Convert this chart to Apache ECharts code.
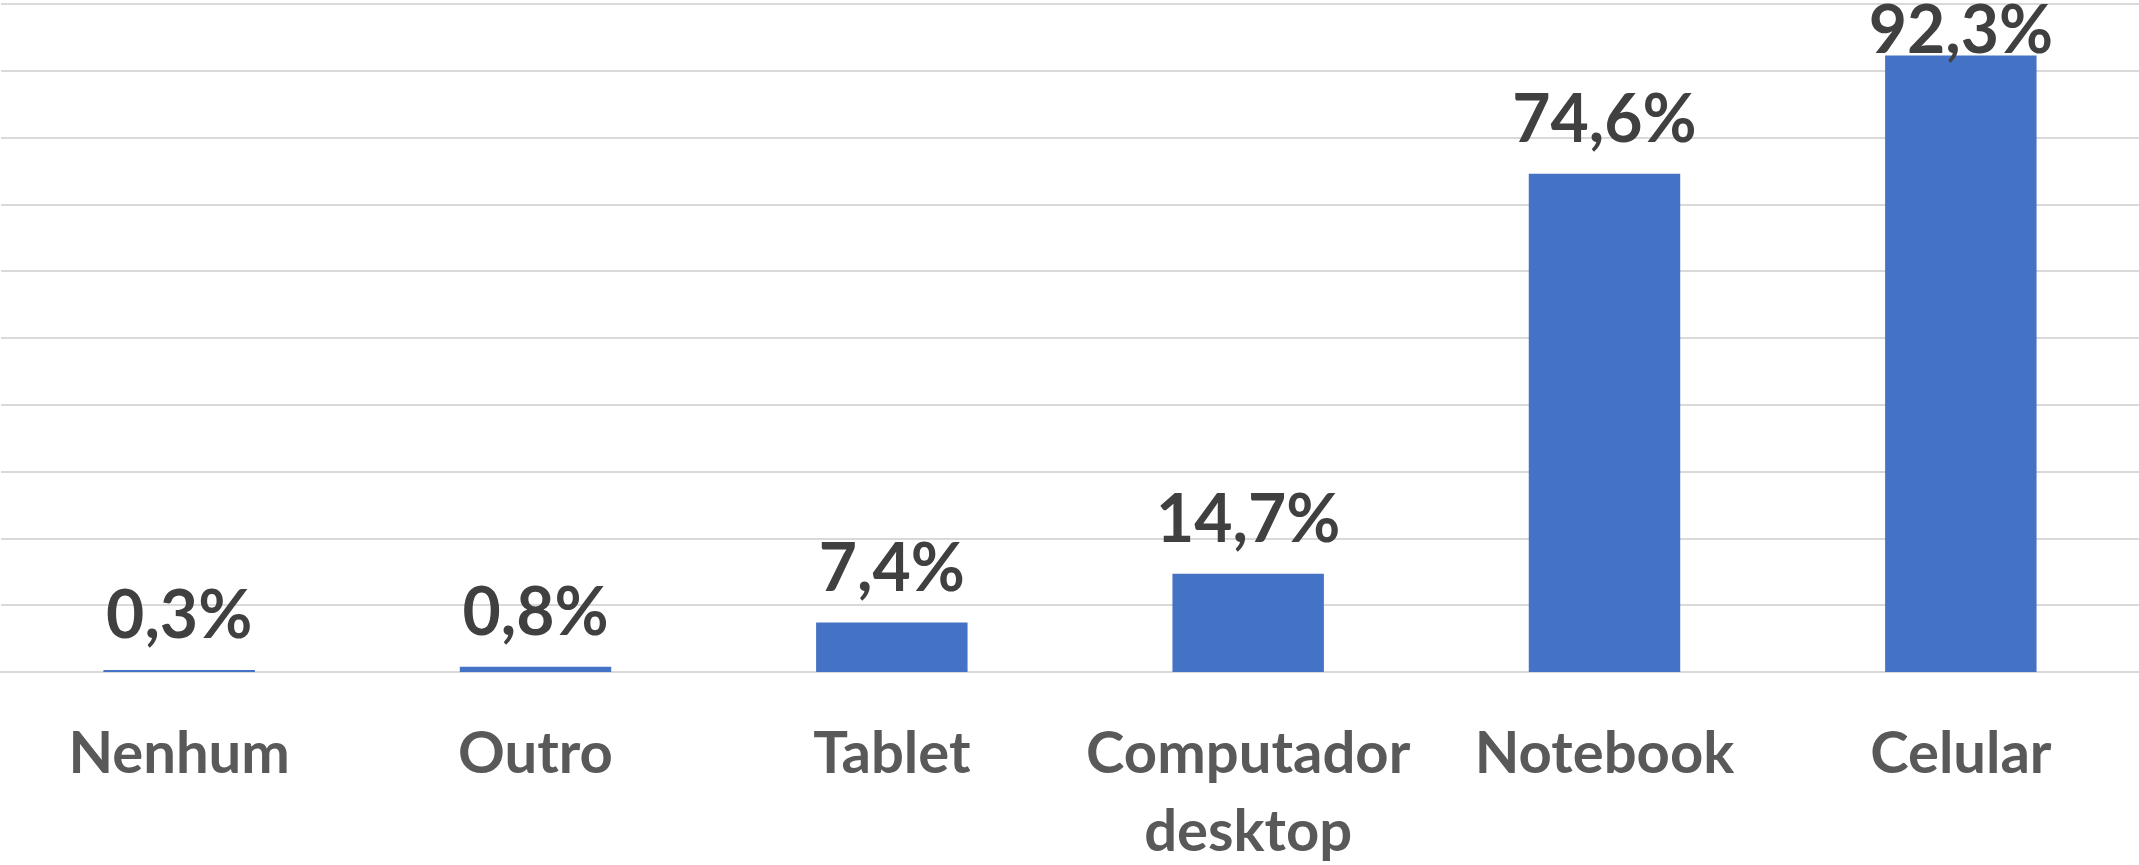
<!DOCTYPE html>
<html>
<head>
<meta charset="utf-8">
<script src="https://cdn.jsdelivr.net/npm/echarts@6/dist/echarts.min.js"></script>
<style>
  html, body { margin: 0; padding: 0; background: #fff; }
  #chart { width: 2139px; height: 865px; }
</style>
</head>
<body>
<div id="chart"></div>
<script>
// dados
const categories = ['Nenhum', 'Outro', 'Tablet', 'Computador\ndesktop', 'Notebook', 'Celular']
const values = [0.3, 0.8, 7.4, 14.7, 74.6, 92.3]

const yMin = 0
const yMax = 100
const yStep = 10

const myChart = echarts.init(document.getElementById('chart'))

// o último rótulo fica encostado na barra (falta espaço no topo)
const seriesData = values.map((v, i) => {
  if (i === values.length - 1) {
    return { value: v, label: { distance: -9 } }
  }
  return v
})

const option = {
  animation: false,
  grid: {
    left: 1,
    right: 0,
    top: 4,
    bottom: 193,
    outerBoundsMode: 'none',
    containLabel: false
  },
  xAxis: {
    type: 'category',
    data: categories,
    axisLine: { show: true, lineStyle: { color: '#D9D9D9', width: 2 } },
    axisTick: { show: false },
    axisLabel: {
      interval: 0,
      margin: 43,
      fontFamily: 'Lato',
      fontWeight: 'bold',
      fontSize: 58,
      lineHeight: 78,
      color: '#595959'
    }
  },
  yAxis: {
    type: 'value',
    min: yMin,
    max: yMax,
    interval: yStep,
    axisLabel: { show: false },
    axisLine: { show: false },
    axisTick: { show: false },
    splitLine: { lineStyle: { color: '#D9D9D9', width: 2 } }
  },
  series: [
    {
      type: 'bar',
      data: seriesData,
      barWidth: '42.5%',
      itemStyle: { color: '#4472C4' },
      label: {
        show: true,
        position: 'top',
        distance: 20,
        fontFamily: 'Lato',
        fontWeight: 'bold',
        fontSize: 66,
        lineHeight: 66,
        color: '#404040',
        formatter: (p) => p.value.toFixed(1).replace('.', ',') + '%'
      }
    }
  ]
}

myChart.setOption(option)
</script>
</body>
</html>
